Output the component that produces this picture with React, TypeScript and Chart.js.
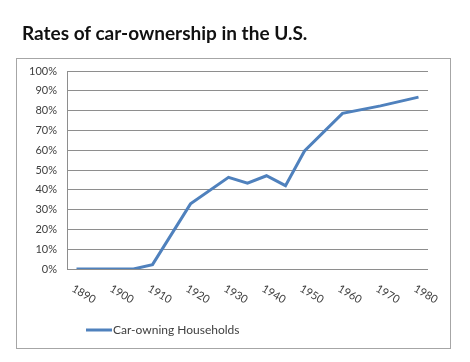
import React, { useEffect, useRef } from "react";
import { Chart, registerables } from "chart.js";

Chart.register(...registerables);

const years = [1890, 1900, 1905, 1910, 1920, 1930, 1935, 1940, 1945, 1950, 1960, 1970, 1980];
const ownership = [0, 0, 0, 2.2, 32.9, 46.3, 43.3, 47.1, 42.1, 59.6, 78.6, 82.4, 86.8];
const xTickYears = [1890, 1900, 1910, 1920, 1930, 1940, 1950, 1960, 1970, 1980];
const seriesLabel = "Car-owning Households";
const titleText = "Rates of car-ownership in the U.S.";

const LINE = "#4f81bd";
const TEXT = "#404040";
const GRID = "#8e8e8e";

const decorPlugin = {
  id: "decor",
  afterDraw(chart: any) {
    const ctx = chart.ctx;
    const xs = chart.scales.x;
    const area = chart.chartArea;
    ctx.save();
    // frame
    ctx.strokeStyle = "#a6a6a6";
    ctx.lineWidth = 1;
    ctx.strokeRect(16.5, 58.5, 434, 290);
    // x tick labels (rotated clockwise)
    ctx.fillStyle = TEXT;
    ctx.font = "11px Lato";
    ctx.textAlign = "left";
    ctx.textBaseline = "top";
    for (const yr of xTickYears) {
      const px = xs.getPixelForValue(yr);
      ctx.save();
      ctx.translate(px - 1, area.bottom + 14);
      ctx.rotate(Math.PI / 6);
      ctx.fillText(String(yr), 0, 0);
      ctx.restore();
    }
    // legend
    const ly = 330;
    ctx.strokeStyle = LINE;
    ctx.lineWidth = 3;
    ctx.beginPath();
    ctx.moveTo(86, ly);
    ctx.lineTo(112, ly);
    ctx.stroke();
    ctx.font = "12px Lato";
    ctx.textBaseline = "middle";
    ctx.fillStyle = TEXT;
    ctx.fillText(chart.data.datasets[0].label, 113, ly);
    ctx.restore();
  },
};

export default function App() {
  const ref = useRef<HTMLCanvasElement | null>(null);
  useEffect(() => {
    if (!ref.current) return;
    const chart = new Chart(ref.current, {
      type: "line",
      data: {
        datasets: [
          {
            label: seriesLabel,
            data: years.map((y, i) => ({ x: y, y: ownership[i] })),
            borderColor: LINE,
            backgroundColor: LINE,
            borderWidth: 3,
            pointRadius: 0,
            tension: 0,
            fill: false,
          },
        ],
      },
      options: {
        animation: false,
        responsive: false,
        devicePixelRatio: 1,
        layout: { padding: { top: 71, right: 42, left: 0, bottom: 0 } },
        plugins: { legend: { display: false }, tooltip: { enabled: false } },
        scales: {
          x: {
            type: "linear",
            min: 1887.5,
            max: 1982.5,
            grid: { display: false, drawTicks: false },
            border: { display: false },
            ticks: { display: false },
            afterFit: (s: any) => {
              s.height = 93;
            },
          },
          y: {
            min: 0,
            max: 100,
            ticks: {
              stepSize: 10,
              callback: (v: any) => v + "%",
              font: { family: "Lato", size: 11 },
              color: TEXT,
              padding: 10,
            },
            grid: { color: GRID, drawTicks: false, lineWidth: 1 },
            border: { display: true, color: GRID },
            afterFit: (s: any) => {
              s.width = 67;
            },
          },
        },
      },
      plugins: [decorPlugin],
    });
    return () => chart.destroy();
  }, []);
  return (
    <div style={{ position: "fixed", left: 0, top: 0, width: 470, height: 362, background: "#fff" }}>
      <div
        style={{
          position: "absolute",
          left: 22,
          top: 23,
          fontFamily: "Lato",
          fontWeight: 700,
          fontSize: 19,
          lineHeight: "19px",
          color: "#111",
          whiteSpace: "nowrap",
        }}
      >
        {titleText}
      </div>
      <canvas ref={ref} width={470} height={362} style={{ display: "block", width: 470, height: 362 }} />
    </div>
  );
}
